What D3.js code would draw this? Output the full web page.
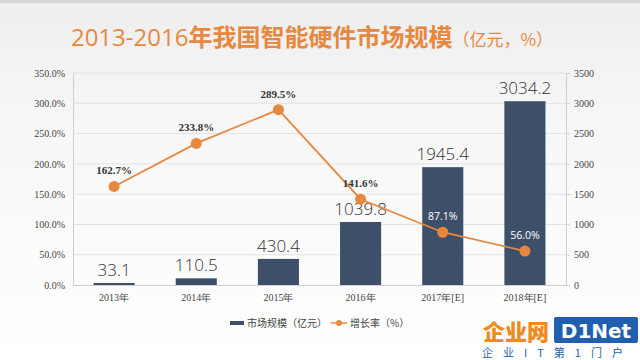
<!DOCTYPE html>
<html><head><meta charset="utf-8">
<script src="https://cdn.jsdelivr.net/npm/d3@7"></script>
<style>
html,body{margin:0;padding:0;}
body{width:640px;height:360px;overflow:hidden;background:#fff;}
</style></head>
<body><svg id="c" width="640" height="360"></svg>
<script>
const categories = ["2013年","2014年","2015年","2016年","2017年E","2018年E"];
const categoryLabels = ["2013年","2014年","2015年","2016年","2017年[E]","2018年[E]"];
const marketSize = [33.1, 110.5, 430.4, 1039.8, 1945.4, 3034.2];
const growthRate = [162.7, 233.8, 289.5, 141.6, 87.1, 56.0];
const leftTicks = [0,50,100,150,200,250,300,350];
const rightTicks = [0,500,1000,1500,2000,2500,3000,3500];

const svg = d3.select("#c");
const defs = svg.append("defs");
const bg = defs.append("linearGradient").attr("id","bg").attr("x1",0).attr("y1",0).attr("x2",0).attr("y2",1);
bg.append("stop").attr("offset","0%").attr("stop-color","#eeeeee");
bg.append("stop").attr("offset","35%").attr("stop-color","#f7f7f7");
bg.append("stop").attr("offset","100%").attr("stop-color","#ffffff");
svg.append("rect").attr("width",640).attr("height",360).attr("fill","url(#bg)");
svg.append("rect").attr("width",640).attr("height",3).attr("fill","#d6d6d6");

const L=73, R=566, T=73, B=285;
const x = d3.scaleBand().domain(categories).range([L,R]).paddingInner(0.5).paddingOuter(0.25);
const yL = d3.scaleLinear().domain([0,350]).range([B,T]);
const yR = d3.scaleLinear().domain([0,3500]).range([B,T]);

// title
const title = svg.append("text").attr("x",312).attr("y",46).attr("text-anchor","middle")
  .attr("font-family","'Noto Sans CJK SC', sans-serif").attr("fill","#e8883e");
title.append("tspan").attr("font-size",24).attr("font-weight",400).attr("font-family","'Open Sans','Noto Sans CJK SC',sans-serif").text("2013-2016");
title.append("tspan").attr("font-size",24).attr("font-weight",700).text("年我国智能硬件市场规模");
title.append("tspan").attr("font-size",17).attr("font-weight",400).text("（亿元，%）");

// grid
svg.append("g").selectAll("line").data(leftTicks.slice(1)).join("line")
  .attr("x1",L).attr("x2",R).attr("y1",d=>yL(d)).attr("y2",d=>yL(d))
  .attr("stroke","#e2e2e2").attr("stroke-width",1);

// axes
const axL = svg.append("g").attr("transform",`translate(${L},0)`)
  .call(d3.axisLeft(yL).tickValues(leftTicks).tickSize(0).tickPadding(8).tickFormat(d=>d.toFixed(1)+"%"));
const axR = svg.append("g").attr("transform",`translate(${R},0)`)
  .call(d3.axisRight(yR).tickValues(rightTicks).tickSize(4).tickPadding(4).tickFormat(d3.format("d")));
const axB = svg.append("g").attr("transform",`translate(0,${B})`)
  .call(d3.axisBottom(x).tickSize(0).tickPadding(9).tickFormat((d,i)=>categoryLabels[i]));
[axL,axR,axB].forEach(a=>{
  a.selectAll(".domain").attr("stroke","#cfcfcf");
  a.selectAll(".tick line").attr("stroke","#cfcfcf");
  a.selectAll("text").attr("fill","#444").attr("font-size",10)
   .attr("font-family","'Liberation Serif','DejaVu Serif',serif");
});

// bars
svg.append("g").selectAll("rect").data(marketSize).join("rect")
  .attr("x",(d,i)=>x(categories[i])).attr("width",x.bandwidth())
  .attr("y",d=>yR(d)).attr("height",d=>B-yR(d)).attr("fill","#3e5069");

svg.append("g").selectAll("text").data(marketSize).join("text")
  .attr("x",(d,i)=>x(categories[i])+x.bandwidth()/2).attr("y",d=>yR(d)-7)
  .attr("text-anchor","middle").attr("font-size",17).attr("font-weight",300)
  .attr("font-family","'Open Sans',sans-serif").attr("fill","#333")
  .text(d=>d.toFixed(1));

// line
const line = d3.line().x((d,i)=>x(categories[i])+x.bandwidth()/2).y(d=>yL(d));
svg.append("path").datum(growthRate).attr("d",line).attr("fill","none")
  .attr("stroke","#e8883e").attr("stroke-width",1.8);
svg.append("g").selectAll("circle").data(growthRate).join("circle")
  .attr("cx",(d,i)=>x(categories[i])+x.bandwidth()/2).attr("cy",d=>yL(d)).attr("r",5.5)
  .attr("fill","#e8883e");
svg.append("g").selectAll("text").data(growthRate).join("text")
  .attr("x",(d,i)=>x(categories[i])+x.bandwidth()/2).attr("y",d=>yL(d)-12)
  .attr("text-anchor","middle")
  .attr("font-size",(d,i)=>i<4?11:10.5)
  .attr("font-weight",(d,i)=>i<4?700:400)
  .attr("font-family",(d,i)=>i<4?"'Liberation Serif',serif":"'Open Sans',sans-serif")
  .attr("fill",(d,i)=>i<4?"#333":"#ffffff")
  .text(d=>d.toFixed(1)+"%");

// legend
const lg = svg.append("g").attr("transform","translate(230,323)");
lg.append("rect").attr("x",0).attr("y",-2).attr("width",14).attr("height",4).attr("fill","#3e5069");
lg.append("text").attr("x",17).attr("y",4).attr("font-size",10).attr("fill","#444")
  .attr("font-family","'Noto Sans CJK SC',serif").text("市场规模（亿元）");
lg.append("line").attr("x1",101).attr("x2",117).attr("y1",0).attr("y2",0).attr("stroke","#e8883e").attr("stroke-width",1.5);
lg.append("circle").attr("cx",109).attr("cy",0).attr("r",3).attr("fill","#e8883e");
lg.append("text").attr("x",120).attr("y",4).attr("font-size",10).attr("fill","#444")
  .attr("font-family","'Noto Sans CJK SC',serif").text("增长率（%）");

// watermark
const wm = svg.append("g");
wm.append("text").attr("x",483).attr("y",340).attr("font-size",22).attr("font-weight",900)
  .attr("font-family","'Noto Sans CJK SC',sans-serif").attr("fill","#f08a1c").text("企业网");
wm.append("rect").attr("x",554).attr("y",317).attr("width",84).attr("height",26).attr("rx",2).attr("fill","#1f5fae");
wm.append("text").attr("x",596).attr("y",338).attr("text-anchor","middle").attr("font-size",20).attr("font-weight",700)
  .attr("font-family","'DejaVu Sans',sans-serif").attr("fill","#fff").text("D1Net");
wm.append("text").attr("x",482).attr("y",357).attr("font-size",11)
  .attr("font-family","'Noto Sans CJK SC',sans-serif").attr("fill","#1f5fae")
  .attr("letter-spacing",10).text("企业IT第1门户");
</script></body></html>
